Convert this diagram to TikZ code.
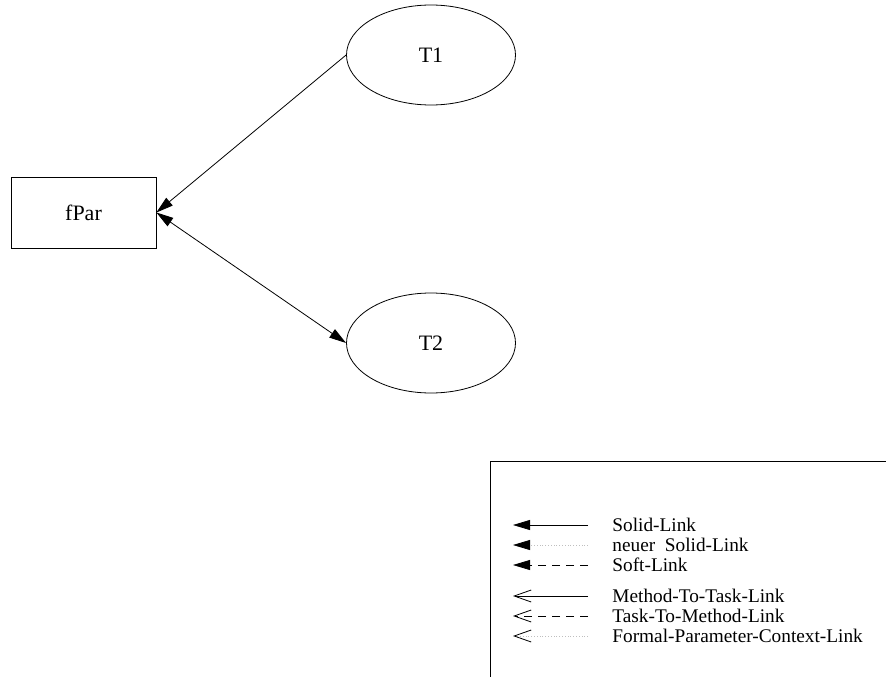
\documentclass[tikz,border=0pt]{standalone}
\usepackage{fontspec}
\setmainfont{Liberation Serif}
\usetikzlibrary{arrows.meta,shapes.geometric}
\begin{document}
\begin{tikzpicture}[x=1pt,y=-1pt,
  line width=0.8pt,
  fullhead/.tip={Triangle[length=17pt,width=10pt,color=black]},
  barbhead/.tip={Straight Barb[length=17pt,width=12pt,line width=0.8pt,color=black]},
  task/.style={draw,ellipse,minimum width=169pt,minimum height=100pt,inner sep=0pt,font=\fontsize{22}{26}\selectfont},
  param/.style={draw,rectangle,minimum width=145pt,minimum height=71pt,inner sep=0pt,font=\fontsize{22}{26}\selectfont},
  solidhead/.style={-fullhead},
  openhead/.style={-barbhead},
  legtext/.style={anchor=west,inner sep=0pt,font=\fontsize{19.3}{23}\selectfont},
  faint/.style={draw=black!25,dotted}
]
\useasboundingbox (0,0) rectangle (886,677);

% graph
\node[param] (fpar) at (83.5,212.5) {fPar};
\node[task] (t1) at (431,55) {T1};
\node[task] (t2) at (431,343) {T2};

\draw[solidhead] (t1.west) -- (fpar.east);
\draw[fullhead-fullhead] (fpar.east) -- (t2.west);

% legend frame
\draw (490,677) -- (490,461) -- (886,461);

% legend entries
\foreach \i/\y/\txt in {1/525/Solid-Link, 2/545/neuer\ \ Solid-Link, 3/565/Soft-Link,
  4/596/Method-To-Task-Link, 5/616/Task-To-Method-Link, 6/636/Formal-Parameter-Context-Link}{
  \coordinate (ls\i) at (588,\y);
  \coordinate (le\i) at (513,\y);
  \node[legtext] (lt\i) at (612,\y) {\txt};
}
\draw[solidhead] (ls1) -- (le1);
\draw[solidhead,faint] (ls2) -- (le2);
\draw[solidhead,dash pattern=on 8pt off 6pt] (ls3) -- (le3);
\draw[openhead] (ls4) -- (le4);
\draw[openhead,dash pattern=on 8pt off 6pt] (ls5) -- (le5);
\draw[openhead,faint] (ls6) -- (le6);
\end{tikzpicture}
\end{document}
